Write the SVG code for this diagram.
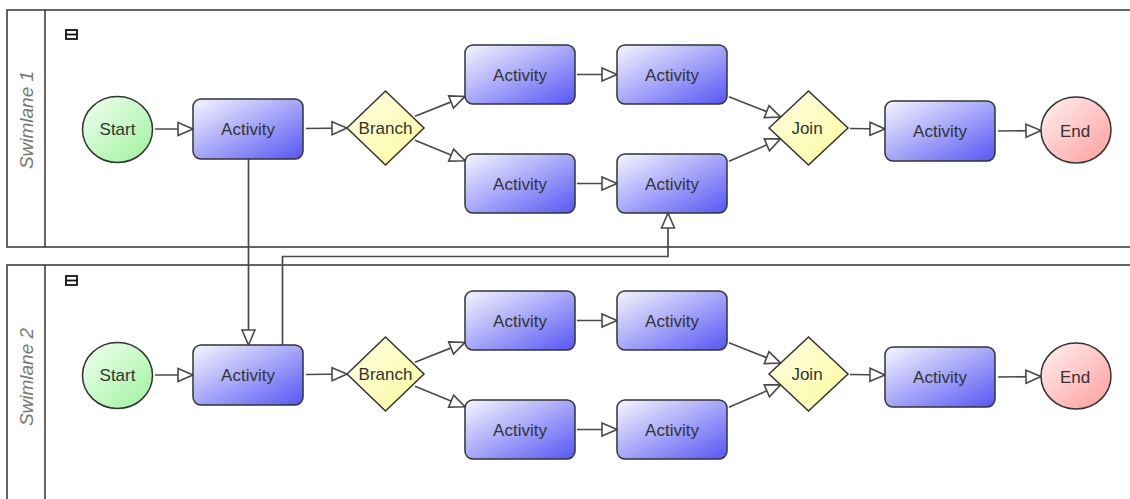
<svg xmlns="http://www.w3.org/2000/svg" width="1130" height="499" viewBox="0 0 1130 499">
<style>
.lane{fill:none;stroke:#333;stroke-width:1.5}
.lbl{font-family:"Liberation Sans",Arial,sans-serif;font-size:19px;font-style:italic;fill:#777;text-anchor:middle}
.icon{fill:none;stroke:#111;stroke-width:1.8}
.act{fill:url(#gAct);stroke:#333;stroke-width:1.5}
.start{fill:url(#gStart);stroke:#333;stroke-width:1.5}
.end{fill:url(#gEnd);stroke:#333;stroke-width:1.5}
.gw{fill:url(#gGw);stroke:#333;stroke-width:1.5}
.t{font-family:"Liberation Sans",Arial,sans-serif;font-size:17px;fill:#333;text-anchor:middle}
.c{fill:none;stroke:#4a4a4a;stroke-width:1.7;marker-end:url(#arr)}
</style>
<defs>
<linearGradient id="gAct" x1="0" y1="0" x2="1" y2="1"><stop offset="0" stop-color="#f6f6ff"/><stop offset="1" stop-color="#5656f4"/></linearGradient>
<linearGradient id="gStart" x1="0" y1="0" x2="1" y2="1"><stop offset="0" stop-color="#f2fff2"/><stop offset="1" stop-color="#9cf29c"/></linearGradient>
<linearGradient id="gEnd" x1="0" y1="0" x2="1" y2="1"><stop offset="0" stop-color="#fff2f2"/><stop offset="1" stop-color="#ff9c9c"/></linearGradient>
<linearGradient id="gGw" x1="0" y1="0" x2="1" y2="1"><stop offset="0" stop-color="#ffffe6"/><stop offset="1" stop-color="#fbfb9c"/></linearGradient>
<marker id="arr" markerUnits="userSpaceOnUse" markerWidth="16" markerHeight="14" refX="15" refY="6.5" orient="auto" overflow="visible"><path d="M0,0 L15,6.5 L0,13 Z" fill="#fff" stroke="#4a4a4a" stroke-width="1.6" stroke-linejoin="miter"/></marker>
</defs>
<g id="lane1">
<rect class="lane" x="7" y="10" width="1140" height="237"/>
<line class="lane" x1="45" y1="10" x2="45" y2="247"/>
<text class="lbl" transform="translate(33,120) rotate(-90)">Swimlane 1</text>
<rect class="icon" x="66" y="30" width="11" height="9"/><line class="icon" x1="66" y1="34.5" x2="77" y2="34.5"/>
</g>
<g id="lane2">
<rect class="lane" x="7" y="265" width="1140" height="250"/>
<line class="lane" x1="45" y1="265" x2="45" y2="515"/>
<text class="lbl" transform="translate(33,377) rotate(-90)">Swimlane 2</text>
<rect class="icon" x="66" y="276" width="11" height="9"/><line class="icon" x1="66" y1="280.5" x2="77" y2="280.5"/>
</g>
<g id="connectors">
<path class="c" d="M155,129 L193,129"/>
<path class="c" d="M306,128.5 L347,128"/>
<path class="c" d="M415,116.3 L465,96.4"/>
<path class="c" d="M415,140.2 L465,160.8"/>
<path class="c" d="M577,74.5 L617,74.5"/>
<path class="c" d="M577,183.5 L617,183.5"/>
<path class="c" d="M729,96.8 L780.6,117.1"/>
<path class="c" d="M729,161.2 L780.6,138.9"/>
<path class="c" d="M850,128.5 L885,129"/>
<path class="c" d="M998,131 L1041,130.5"/>
<path class="c" d="M155,375 L193,375"/>
<path class="c" d="M306,374.5 L347,374"/>
<path class="c" d="M415,362.3 L465,342.4"/>
<path class="c" d="M415,386.2 L465,406.8"/>
<path class="c" d="M577,320.5 L617,320.5"/>
<path class="c" d="M577,429.5 L617,429.5"/>
<path class="c" d="M729,342.8 L780.6,363.1"/>
<path class="c" d="M729,407.2 L780.6,384.9"/>
<path class="c" d="M850,374.5 L885,375"/>
<path class="c" d="M998,377 L1041,376.5"/>
<path class="c" d="M248.5,159 L248.5,345"/>
<path class="c" d="M282.5,345 V256.5 H668 V213"/>
</g>
<g id="l1_start"><ellipse class="start" cx="117.5" cy="129.5" rx="35" ry="33"/><text class="t" x="117.5" y="135">Start</text></g>
<g id="l1_act1"><rect class="act" x="193" y="99" width="110" height="60" rx="8"/><text class="t" x="248" y="135">Activity</text></g>
<g id="l1_branch"><polygon class="gw" points="347,128 385.5,91 424,128 385.5,165"/><text class="t" x="385.5" y="134">Branch</text></g>
<g id="l1_act2"><rect class="act" x="465" y="45" width="110" height="59" rx="8"/><text class="t" x="520" y="80.5">Activity</text></g>
<g id="l1_act3"><rect class="act" x="617" y="45" width="110" height="59" rx="8"/><text class="t" x="672" y="80.5">Activity</text></g>
<g id="l1_act4"><rect class="act" x="465" y="154" width="110" height="59" rx="8"/><text class="t" x="520" y="189.5">Activity</text></g>
<g id="l1_act5"><rect class="act" x="617" y="154" width="110" height="59" rx="8"/><text class="t" x="672" y="189.5">Activity</text></g>
<g id="l1_join"><polygon class="gw" points="769,128 808.5,91 848,128 808.5,165"/><text class="t" x="807" y="134">Join</text></g>
<g id="l1_act6"><rect class="act" x="885" y="101" width="110" height="60" rx="8"/><text class="t" x="940" y="137">Activity</text></g>
<g id="l1_end"><ellipse class="end" cx="1076" cy="130" rx="35" ry="33"/><text class="t" x="1075" y="137">End</text></g>
<g id="l2_start"><ellipse class="start" cx="117.5" cy="375.5" rx="35" ry="33"/><text class="t" x="117.5" y="381">Start</text></g>
<g id="l2_act1"><rect class="act" x="193" y="345" width="110" height="60" rx="8"/><text class="t" x="248" y="381">Activity</text></g>
<g id="l2_branch"><polygon class="gw" points="347,374 385.5,337 424,374 385.5,411"/><text class="t" x="385.5" y="380">Branch</text></g>
<g id="l2_act2"><rect class="act" x="465" y="291" width="110" height="59" rx="8"/><text class="t" x="520" y="326.5">Activity</text></g>
<g id="l2_act3"><rect class="act" x="617" y="291" width="110" height="59" rx="8"/><text class="t" x="672" y="326.5">Activity</text></g>
<g id="l2_act4"><rect class="act" x="465" y="400" width="110" height="59" rx="8"/><text class="t" x="520" y="435.5">Activity</text></g>
<g id="l2_act5"><rect class="act" x="617" y="400" width="110" height="59" rx="8"/><text class="t" x="672" y="435.5">Activity</text></g>
<g id="l2_join"><polygon class="gw" points="769,374 808.5,337 848,374 808.5,411"/><text class="t" x="807" y="380">Join</text></g>
<g id="l2_act6"><rect class="act" x="885" y="347" width="110" height="60" rx="8"/><text class="t" x="940" y="383">Activity</text></g>
<g id="l2_end"><ellipse class="end" cx="1076" cy="376" rx="35" ry="33"/><text class="t" x="1075" y="383">End</text></g>
</svg>
